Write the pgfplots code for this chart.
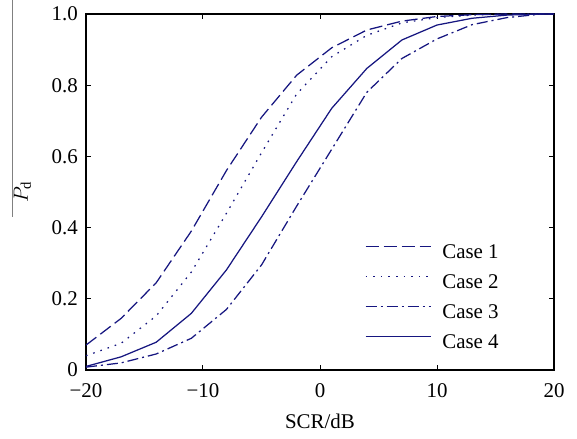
\documentclass[border=0pt]{standalone}
\usepackage{fontspec}
\setmainfont{Liberation Serif}
\usepackage{pgfplots}
\pgfplotsset{compat=1.18}
\definecolor{navyline}{RGB}{22,22,128}
\begin{document}
\begin{tikzpicture}
\begin{axis}[
  scale only axis,
  width=468bp, height=356bp,
  xmin=-20, xmax=20, ymin=0, ymax=1,
  xtick={-20,-10,0,10,20},
  xticklabels={−20,−10,0,10,20},
  ytick={0,0.2,0.4,0.6,0.8,1},
  yticklabels={0,0.2,0.4,0.6,0.8,1.0},
  tick align=inside,
  major tick length=5bp,
  tick style={black, line width=1bp},
  axis line style={black, line width=1.5bp},
  font=\fontsize{21}{25}\selectfont,
  /pgf/number format/assume math mode=true,
  xticklabel style={inner sep=0pt, yshift=-13bp},
  yticklabel style={inner sep=0pt, xshift=-8bp},
  xlabel={SCR/dB},
  xlabel style={yshift=-13bp},
  ylabel={$P_{\mathrm{d}}$},
  ylabel style={yshift=17bp},
  every axis plot/.append style={navyline, line width=1.25bp, line join=round},
  legend cell align=left,
  legend style={draw=none, fill=none, at={(0.5895,0.055)}, anchor=south west,
    font=\fontsize{21}{25}\selectfont, row sep=15bp, column sep=11bp,
    nodes={inner sep=0pt, text height=15bp, text depth=0bp}},
  legend image code/.code={\draw[#1] (0bp,4bp) -- (65bp,4bp);},
]
\addplot[dash pattern=on 13bp off 5bp] coordinates {
(-20,0.070) (-17,0.145) (-14,0.245) (-11,0.390) (-8,0.560) (-5,0.710) (-2,0.828)
(1,0.905) (4,0.955) (7,0.980) (10,0.993) (13,0.998) (16,1.000) (19,1.000) (20,1.000)};
\addlegendentry{Case 1}
\addplot[dash pattern=on 1.6bp off 6bp] coordinates {
(-20,0.040) (-17,0.075) (-14,0.152) (-11,0.275) (-8,0.440) (-5,0.610) (-2,0.775)
(1,0.880) (4,0.940) (7,0.975) (10,0.990) (13,0.997) (16,1.000) (19,1.000) (20,1.000)};
\addlegendentry{Case 2}
\addplot[dash pattern=on 11bp off 4bp on 2bp off 4bp] coordinates {
(-20,0.008) (-17,0.020) (-14,0.045) (-11,0.089) (-8,0.170) (-5,0.295) (-2,0.460)
(1,0.620) (4,0.780) (7,0.875) (10,0.930) (13,0.970) (16,0.990) (19,1.000) (20,1.000)};
\addlegendentry{Case 3}
\addplot[solid] coordinates {
(-20,0.010) (-17,0.037) (-14,0.078) (-11,0.159) (-8,0.281) (-5,0.430) (-2,0.585)
(1,0.735) (4,0.847) (7,0.927) (10,0.969) (13,0.988) (16,0.997) (19,1.000) (20,1.000)};
\addlegendentry{Case 4}
\end{axis}
\draw[gray, line width=1bp] ([xshift=-73bp]current axis.north west) ++(0,14bp) -- ++(0,-217bp);
\pgfresetboundingbox
\path ([shift={(-86bp,-69bp)}]current axis.south west) rectangle ([shift={(23bp,14bp)}]current axis.north east);
\end{tikzpicture}
\end{document}
